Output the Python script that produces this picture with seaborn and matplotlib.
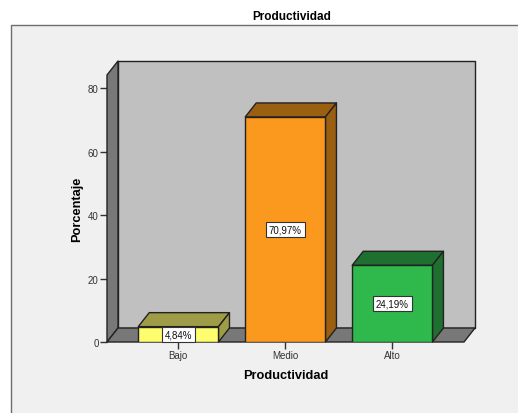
import matplotlib
matplotlib.use("Agg")
import matplotlib.pyplot as plt
from matplotlib.patches import Polygon, Rectangle
import pandas as pd
import seaborn as sns

categories = ["Bajo", "Medio", "Alto"]
values = [4.84, 70.97, 24.19]
value_labels = ["4,84%", "70,97%", "24,19%"]
y_ticks = [0, 20, 40, 60, 80]
front_colors = ["#FDFD6E", "#FB991F", "#2FB84B"]
side_colors = ["#9E9C47", "#9B5F12", "#1E7030"]

sns.set_theme(style="white")
plt.rcParams["font.family"] = ["Liberation Sans", "DejaVu Sans"]

W, H = 518, 414
fig = plt.figure(figsize=(W / 100, H / 100), dpi=100, facecolor="white")

# outer grey frame of the chart, runs off the right and bottom of the picture
fig.add_artist(Rectangle((11 / W, -0.02), 1, 1.02 - 26 / H, transform=fig.transFigure,
                         facecolor="#F0F0F0", edgecolor="#6E6E6E", lw=1, zorder=-1))

ax = fig.add_axes([107 / W, 1 - 343 / H, 357 / W, 267 / H])
ax.patch.set_alpha(0)

df = pd.DataFrame({"cat": categories, "val": values})
sns.barplot(data=df, x="cat", y="val", hue="cat", palette=front_colors, saturation=1, width=0.75,
            legend=False, edgecolor="#222222", linewidth=1, ax=ax, zorder=5)
ax.set_xlim(-0.667, 2.67)
ax.set_ylim(0, 84.2)

# depth of the fake 3D box, in data units
dx = 11 / (357 / (2.67 + 0.667))
dy = 14 / (267 / 84.2)
x0, x1 = ax.get_xlim()
y0, y1 = ax.get_ylim()


def face(pts, color, z, lw=1, edge="#222222"):
    ax.add_patch(Polygon(pts, closed=True, facecolor=color, edgecolor=edge, lw=lw,
                         clip_on=False, zorder=z, joinstyle="round"))


face([(x0 + dx, y0 + dy), (x1 + dx, y0 + dy), (x1 + dx, y1 + dy), (x0 + dx, y1 + dy)], "#C0C0C0", 1)
face([(x0, y0), (x0 + dx, y0 + dy), (x0 + dx, y1 + dy), (x0, y1)], "#787878", 2)
face([(x0, y0), (x1, y0), (x1 + dx, y0 + dy), (x0 + dx, y0 + dy)], "#787878", 2)

bars = [p for p in ax.patches if p.get_zorder() == 5]
for bar, side, label in zip(bars, side_colors, value_labels):
    left, right, top = bar.get_x(), bar.get_x() + bar.get_width(), bar.get_height()
    face([(left, top), (right, top), (right + dx, top + dy), (left + dx, top + dy)], side, 4)
    face([(right, 0), (right + dx, dy), (right + dx, top + dy), (right, top)], side, 4)
    ax.text((left + right) / 2, top / 2, label, ha="center", va="center", fontsize=7,
            color="#111111", zorder=8,
            bbox=dict(boxstyle="square,pad=0.28", facecolor="white", edgecolor="#333333", lw=0.8))

ax.set_yticks(y_ticks)
ax.set_xlabel("Productividad", fontsize=9.2, fontweight="bold", color="black", labelpad=6)
ax.set_ylabel("Porcentaje", fontsize=9.2, fontweight="bold", color="black", labelpad=3)
ax.tick_params(axis="both", labelsize=7, labelcolor="#333333", length=5, width=1, color="#333333",
               bottom=True, left=True, pad=1)
sns.despine(ax=ax, top=True, right=True, left=True, bottom=True)

fig.text(292 / W, 1 - 17 / H, "Productividad", ha="center", va="center", fontsize=8.5,
         fontweight="bold", color="black")

fig.savefig("out.png", dpi=100)
